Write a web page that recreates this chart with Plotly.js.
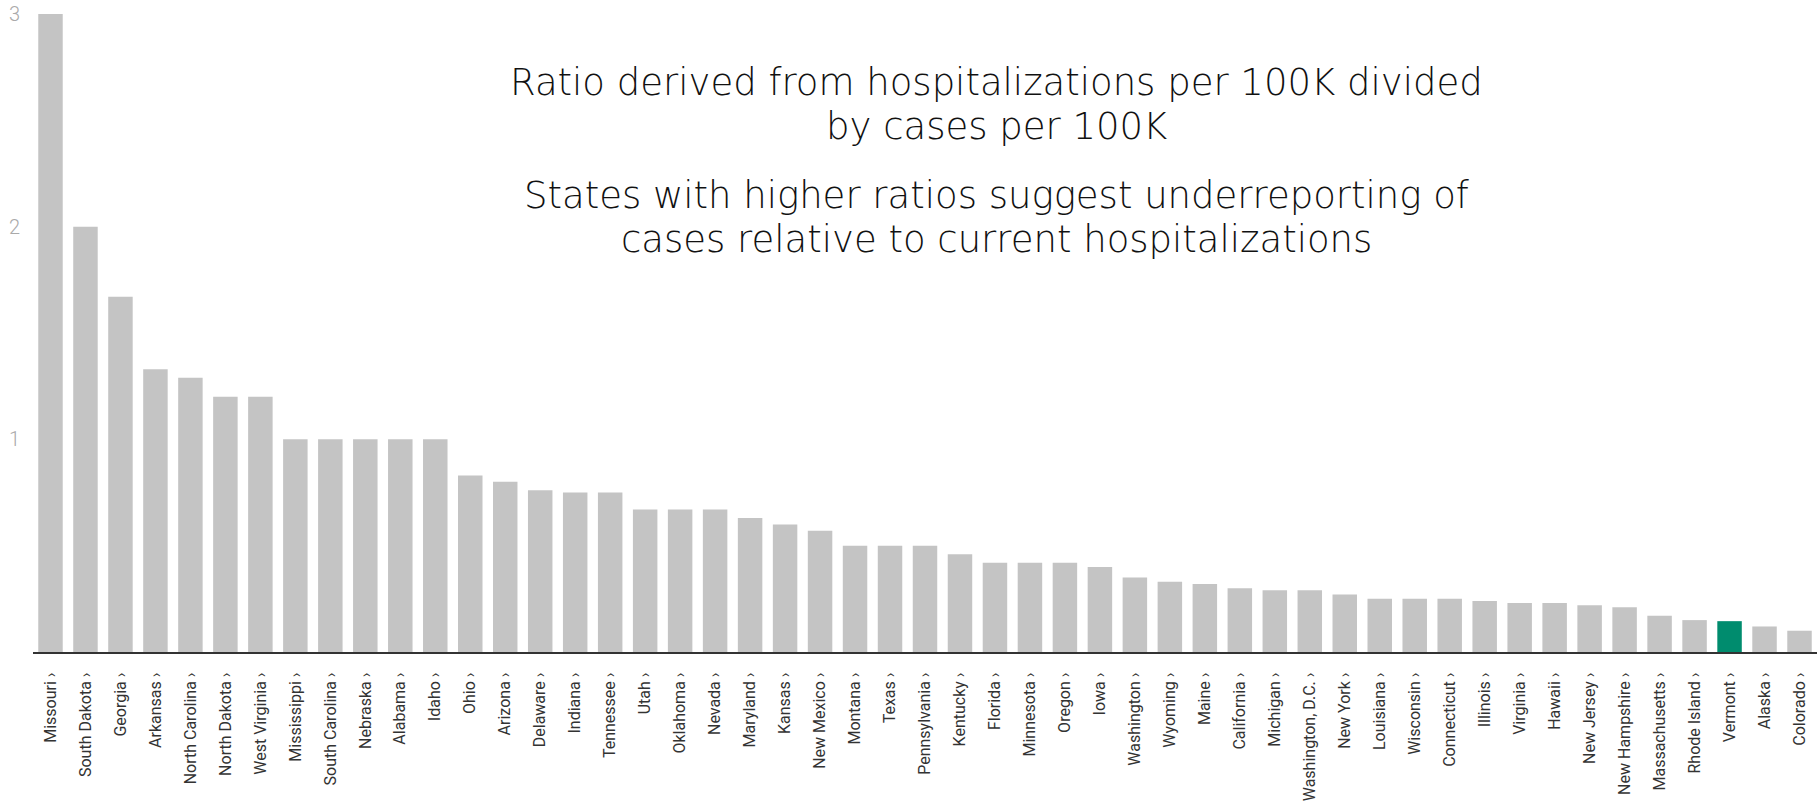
<!DOCTYPE html>
<html>
<head>
<meta charset="utf-8">
<script src="https://cdn.plot.ly/plotly-3.0.1.min.js"></script>
<style>
  html, body { margin: 0; padding: 0; background: #ffffff; }
  #chart { width: 1820px; height: 810px; }
</style>
</head>
<body>
<div id="chart"></div>
<script>
const states = [
  "Missouri", "South Dakota", "Georgia", "Arkansas", "North Carolina", "North Dakota",
  "West Virginia", "Mississippi", "South Carolina", "Nebraska", "Alabama", "Idaho",
  "Ohio", "Arizona", "Delaware", "Indiana", "Tennessee", "Utah", "Oklahoma", "Nevada",
  "Maryland", "Kansas", "New Mexico", "Montana", "Texas", "Pennsylvania", "Kentucky",
  "Florida", "Minnesota", "Oregon", "Iowa", "Washington", "Wyoming", "Maine",
  "California", "Michigan", "Washington, D.C.", "New York", "Louisiana", "Wisconsin",
  "Connecticut", "Illinois", "Virginia", "Hawaii", "New Jersey", "New Hampshire",
  "Massachusetts", "Rhode Island", "Vermont", "Alaska", "Colorado"
];
const ratios = [
  3.0, 2.0, 1.67, 1.33, 1.29, 1.2,
  1.2, 1.0, 1.0, 1.0, 1.0, 1.0,
  0.83, 0.8, 0.76, 0.75, 0.75, 0.67, 0.67, 0.67,
  0.63, 0.6, 0.57, 0.5, 0.5, 0.5, 0.46,
  0.42, 0.42, 0.42, 0.4, 0.35, 0.33, 0.32,
  0.3, 0.29, 0.29, 0.27, 0.25, 0.25,
  0.25, 0.24, 0.23, 0.23, 0.22, 0.21,
  0.17, 0.15, 0.145, 0.12, 0.1
];
const highlightState = "Vermont";
const yTicks = [1, 2, 3];
const noteLines = [
  "Ratio derived from hospitalizations per 100K divided",
  "by cases per 100K",
  "States with higher ratios suggest underreporting of",
  "cases relative to current hospitalizations"
];

const labels = states.map(s => s + " \u203A");
const colors = states.map(s => s === highlightState ? "#008c6e" : "#c4c4c4");

const trace = {
  type: "bar",
  x: labels,
  y: ratios,
  marker: { color: colors },
  hoverinfo: "x+y"
};

// vertical pixel centres of the note lines (layout only)
const notePixelY = [82, 126, 195, 239];
const plotTop = 14, plotBottom = 652;
const annotations = noteLines.map((t, i) => ({
  xref: "paper",
  yref: "paper",
  x: 0.54,
  y: (plotBottom - notePixelY[i]) / (plotBottom - plotTop),
  xanchor: "center",
  yanchor: "middle",
  showarrow: false,
  align: "center",
  text: t,
  font: { family: "DejaVu Sans ExtraLight, DejaVu Sans, sans-serif", size: 37, color: "#111111", weight: 200 }
}));

const layout = {
  width: 1820,
  height: 810,
  margin: { l: 33, r: 3, t: plotTop, b: 810 - plotBottom },
  paper_bgcolor: "#ffffff",
  plot_bgcolor: "#ffffff",
  bargap: 0.3,
  showlegend: false,
  xaxis: {
    type: "category",
    tickangle: -90,
    tickfont: { family: "Roboto, Liberation Sans, Arial, sans-serif", size: 16, color: "#333333" },
    showline: true,
    linecolor: "#333333",
    linewidth: 2,
    ticks: "outside",
    ticklen: 12,
    tickcolor: "rgba(0,0,0,0)",
    showgrid: false,
    zeroline: false,
    fixedrange: true
  },
  yaxis: {
    range: [0, 3],
    tickvals: yTicks,
    ticktext: yTicks.map(String),
    tickfont: { family: "Roboto, sans-serif", size: 20, color: "#aaaaaa", weight: 300 },
    ticks: "outside",
    ticklen: 8,
    tickcolor: "rgba(0,0,0,0)",
    showgrid: false,
    zeroline: false,
    showline: false,
    fixedrange: true
  },
  annotations: annotations
};

Plotly.newPlot("chart", [trace], layout, { displayModeBar: false });
</script>
</body>
</html>
